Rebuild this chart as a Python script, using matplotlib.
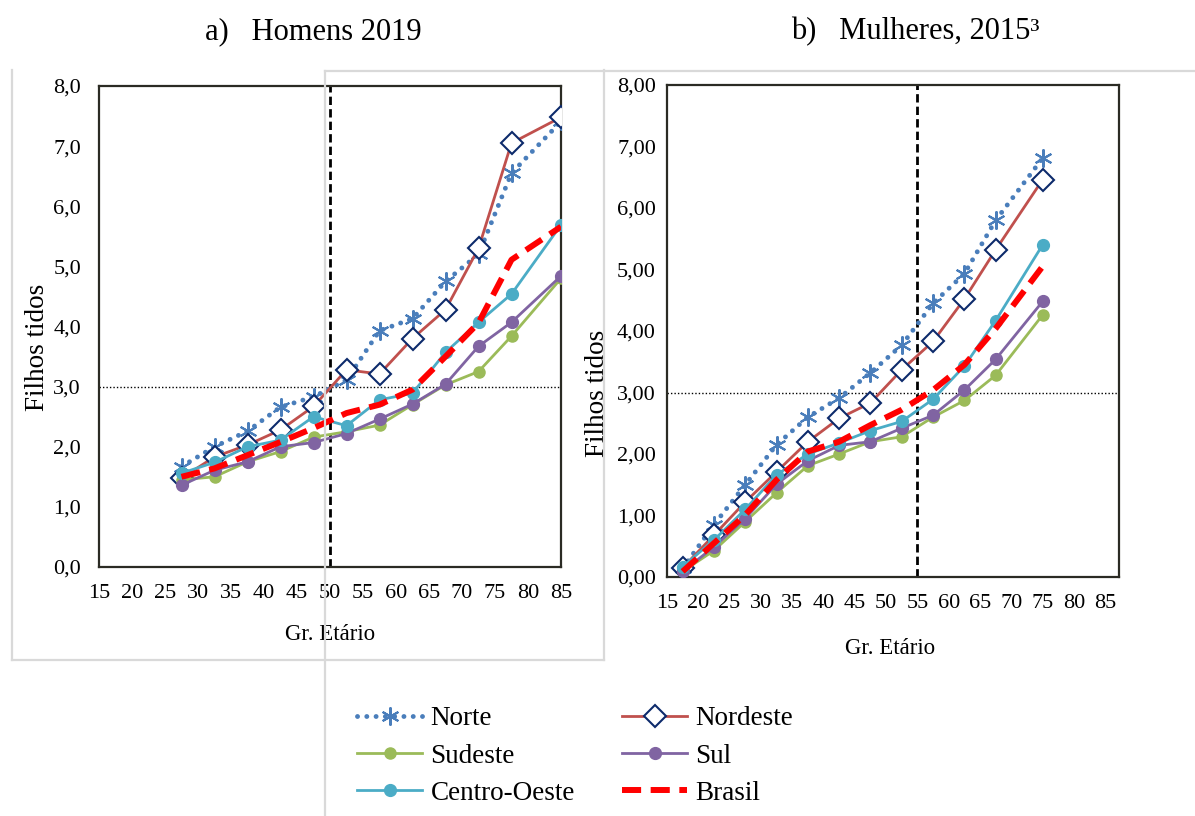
import matplotlib
matplotlib.use("Agg")
import matplotlib.pyplot as plt
from matplotlib.lines import Line2D

plt.rcParams['font.family'] = ['Liberation Serif', 'DejaVu Serif']

# age group midpoints (last open group plotted at the end)
idade_h = [27.5, 32.5, 37.5, 42.5, 47.5, 52.5, 57.5, 62.5, 67.5, 72.5, 77.5, 85]
idade_m = [17.5, 22.5, 27.5, 32.5, 37.5, 42.5, 47.5, 52.5, 57.5, 62.5, 67.5, 75]

# a) Homens 2019
h_norte = [1.67, 2.00, 2.26, 2.66, 2.83, 3.11, 3.93, 4.13, 4.75, 5.20, 6.55, 7.41]
h_nordeste = [1.48, 1.83, 2.03, 2.28, 2.67, 3.28, 3.21, 3.80, 4.28, 5.30, 7.05, 7.48]
h_sudeste = [1.45, 1.50, 1.75, 1.92, 2.16, 2.25, 2.36, 2.70, 3.03, 3.25, 3.84, 4.80]
h_sul = [1.36, 1.61, 1.75, 2.00, 2.07, 2.22, 2.46, 2.71, 3.04, 3.67, 4.07, 4.84]
h_centro = [1.56, 1.74, 2.00, 2.11, 2.50, 2.35, 2.78, 2.89, 3.57, 4.07, 4.54, 5.69]
h_brasil = [1.50, 1.64, 1.86, 2.08, 2.31, 2.56, 2.70, 2.95, 3.50, 4.06, 5.11, 5.66]

# b) Mulheres 2015
m_norte = [0.14, 0.85, 1.50, 2.15, 2.60, 2.91, 3.32, 3.77, 4.45, 4.93, 5.80, 6.81]
m_nordeste = [0.15, 0.68, 1.22, 1.71, 2.20, 2.58, 2.83, 3.37, 3.83, 4.52, 5.32, 6.46]
m_sudeste = [0.09, 0.43, 0.90, 1.37, 1.81, 2.00, 2.20, 2.28, 2.60, 2.87, 3.28, 4.26]
m_sul = [0.09, 0.49, 0.95, 1.51, 1.89, 2.14, 2.20, 2.42, 2.63, 3.04, 3.54, 4.48]
m_centro = [0.17, 0.60, 1.10, 1.66, 2.00, 2.18, 2.38, 2.53, 2.89, 3.43, 4.17, 5.40]
m_brasil = [0.09, 0.55, 1.01, 1.58, 2.04, 2.20, 2.47, 2.72, 3.04, 3.45, 4.04, 5.05]

regioes = ["Norte", "Nordeste", "Sudeste", "Sul", "Centro-Oeste", "Brasil"]
x_ticks = [15, 20, 25, 30, 35, 40, 45, 50, 55, 60, 65, 70, 75, 80, 85]
y_ticks = [0, 1, 2, 3, 4, 5, 6, 7, 8]
y_labels_h = ["0,0", "1,0", "2,0", "3,0", "4,0", "5,0", "6,0", "7,0", "8,0"]
y_labels_m = ["0,00", "1,00", "2,00", "3,00", "4,00", "5,00", "6,00", "7,00", "8,00"]

W, H = 1195, 816
fig = plt.figure(figsize=(W / 100, H / 100), dpi=100)


def fx(px):
    return px / W


def fy(py):
    return 1 - py / H


def draw_panel(ax, x, series, ylabels, xmax, corte, ypad):
    norte, nordeste, sudeste, sul, centro, brasil = series
    ax.plot(x, norte, color='#4a7ebb', lw=3.5, linestyle=(0, (0.01, 1.9)),
            dash_capstyle='round', marker=(6, 2, 0), ms=13, mew=1.5,
            mec='#4a7ebb', label=regioes[0], zorder=3)
    ax.plot(x, nordeste, color='#c0504d', lw=2.0, marker='D', ms=11,
            mfc='white', mec='#0d2a6b', mew=1.5, label=regioes[1], zorder=4)
    ax.plot(x, sudeste, color='#9bbb59', lw=2.0, marker='o', ms=8,
            label=regioes[2], zorder=5)
    ax.plot(x, sul, color='#8064a2', lw=2.0, marker='o', ms=8.5,
            label=regioes[3], zorder=6)
    ax.plot(x, centro, color='#4bacc6', lw=2.0, marker='o', ms=8.5,
            label=regioes[4], zorder=7)
    ax.plot(x, brasil, color='#ff0000', lw=4.3, linestyle=(0, (3.2, 1.6)),
            label=regioes[5], zorder=8)
    ax.axvline(corte, color='black', lw=2.0, linestyle=(0, (3, 1.5)), zorder=2)
    ax.axhline(3, color='black', lw=1.0, linestyle=(0, (1, 1.5)), zorder=2)
    ax.set_xlim(15, xmax)
    ax.set_ylim(0, 8)
    ax.set_xticks(x_ticks)
    ax.set_xticklabels([str(t) for t in x_ticks])
    ax.set_yticks(y_ticks)
    ax.set_yticklabels(ylabels)
    ax.tick_params(length=0, labelsize=16, colors='black')
    ax.tick_params(axis='x', pad=12)
    ax.tick_params(axis='y', pad=ypad)
    for s in ax.spines.values():
        s.set_color('#2b2b24')
        s.set_linewidth(1.6)


ax1 = fig.add_axes([fx(99), fy(567), fx(561 - 99), (567 - 86) / H])
draw_panel(ax1, idade_h, [h_norte, h_nordeste, h_sudeste, h_sul, h_centro, h_brasil],
           y_labels_h, 85, 50, 13)

ax2 = fig.add_axes([fx(667), fy(577), fx(1119 - 667), (577 - 85) / H])
draw_panel(ax2, idade_m, [m_norte, m_nordeste, m_sudeste, m_sul, m_centro, m_brasil],
           y_labels_m, 87.2, 55, 8)

# titles and axis labels
fig.text(fx(313), fy(32), "a)   Homens 2019", fontsize=22, ha='center', va='center')
fig.text(fx(915), fy(32), "b)   Mulheres, 2015³", fontsize=22, ha='center', va='center')
fig.text(fx(37), fy(347), "Filhos tidos", fontsize=19.5, rotation=90, ha='center', va='center')
fig.text(fx(597), fy(393), "Filhos tidos", fontsize=19.5, rotation=90, ha='center', va='center')
fig.text(fx(330), fy(634), "Gr. Etário", fontsize=16.5, ha='center', va='center')
fig.text(fx(890), fy(648), "Gr. Etário", fontsize=16.5, ha='center', va='center')

# light grey chart-area frames
grey = '#d9d9d9'
frame_lines = [
    ([12, 12], [70, 660]), ([12, 604], [660, 660]), ([604, 604], [70, 660]),
    ([325, 1195], [71, 71]), ([325, 325], [71, 816]),
]
for xs, ys in frame_lines:
    fig.add_artist(Line2D([fx(v) for v in xs], [fy(v) for v in ys],
                          color=grey, lw=1.6, zorder=10))

handles, labels = ax1.get_legend_handles_labels()
order = [0, 2, 4, 1, 3, 5]
fig.legend([handles[i] for i in order], [labels[i] for i in order],
           ncol=2, loc='upper left', bbox_to_anchor=(fx(333), fy(682)),
           frameon=False, fontsize=19.5, handlelength=2.4, handletextpad=0.3,
           columnspacing=1.75, labelspacing=0.45)

fig.savefig("out.png", dpi=100)
